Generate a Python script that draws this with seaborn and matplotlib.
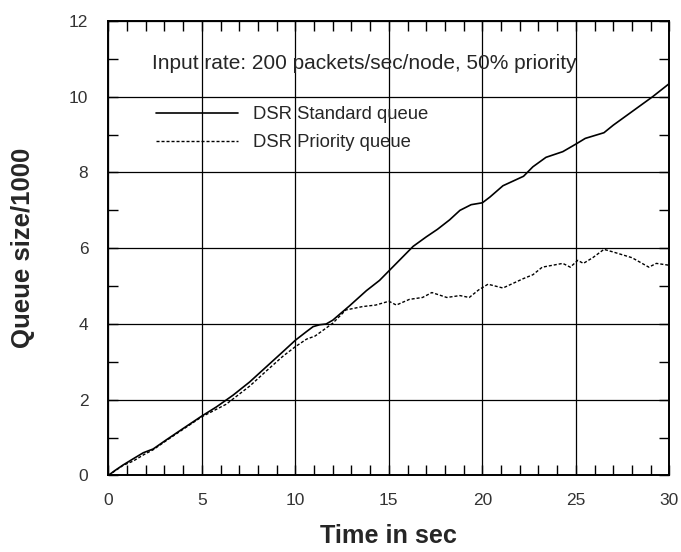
import matplotlib
matplotlib.use("Agg")
import matplotlib.pyplot as plt
import seaborn as sns
import pandas as pd
from matplotlib.ticker import MultipleLocator

std_t = [0, 0.35, 0.8, 1.33, 1.87, 2.4, 3.1, 4.0, 5, 5.78, 6.67, 7.56, 8.45, 9.34, 10, 10.6,
         10.95, 11.3, 11.65, 12, 12.9, 13.8, 14.5, 15, 15.6, 16.3, 17, 17.6, 18.25, 18.8, 19.4,
         20, 20.4, 21.1, 22.2, 22.7, 23.4, 24.3, 25, 25.5, 26.5, 27, 27.7, 28.4, 29.1, 30]
std_q = [0, 0.13, 0.28, 0.44, 0.6, 0.7, 0.94, 1.24, 1.57, 1.81, 2.12, 2.47, 2.87, 3.27, 3.57, 3.8,
         3.93, 3.98, 4.0, 4.1, 4.48, 4.88, 5.15, 5.4, 5.7, 6.05, 6.3, 6.5, 6.75, 7.0, 7.15,
         7.2, 7.35, 7.65, 7.9, 8.15, 8.4, 8.55, 8.75, 8.9, 9.05, 9.25, 9.5, 9.75, 10.0, 10.35]

pri_t = [0, 0.8, 1.33, 1.9, 2.4, 3.1, 4.0, 5, 6.3, 7.56, 8.45, 9.34, 10, 10.6, 11.05, 11.5, 12,
         12.7, 13.6, 14.3, 15, 15.4, 16.1, 16.8, 17.3, 18.1, 18.8, 19.3, 19.8, 20.3, 21.1, 22.2,
         22.7, 23.2, 24.3, 24.7, 25.1, 25.4, 25.9, 26.5, 27, 28, 28.9, 29.3, 30]
pri_q = [0, 0.27, 0.38, 0.55, 0.68, 0.92, 1.22, 1.55, 1.88, 2.36, 2.76, 3.15, 3.4, 3.6, 3.68, 3.84,
         4.02, 4.37, 4.46, 4.5, 4.6, 4.5, 4.65, 4.7, 4.83, 4.7, 4.75, 4.7, 4.9, 5.05, 4.95, 5.2,
         5.3, 5.5, 5.6, 5.5, 5.68, 5.6, 5.75, 5.97, 5.9, 5.75, 5.5, 5.6, 5.55]

labels = ["DSR Standard queue", "DSR Priority queue"]
title = "Input rate: 200 packets/sec/node, 50% priority"
xticks = [0, 5, 10, 15, 20, 25, 30]
yticks = [0, 2, 4, 6, 8, 10, 12]

sns.set_style("ticks")
plt.rcParams['font.family'] = ['Liberation Sans', 'DejaVu Sans']

fig = plt.figure(figsize=(6.81, 5.52), dpi=100)
ax = fig.add_axes([0.159, 0.1386, 0.824, 0.8234])

df_std = pd.DataFrame({"t": std_t, "q": std_q})
df_pri = pd.DataFrame({"t": pri_t, "q": pri_q})
sns.lineplot(data=df_std, x="t", y="q", ax=ax, color="black", lw=1.2, label=labels[0])
sns.lineplot(data=df_pri, x="t", y="q", ax=ax, color="black", lw=1.0, label=labels[1],
             dashes=False)
ax.lines[1].set_dashes([2.2, 1.4])

ax.set_xlim(0, 30)
ax.set_ylim(0, 12)
ax.set_xticks(xticks)
ax.set_yticks(yticks)
ax.xaxis.set_minor_locator(MultipleLocator(1))
ax.yaxis.set_minor_locator(MultipleLocator(1))
ax.grid(True, which="major", color="black", lw=0.9)
ax.tick_params(which="both", direction="in", top=True, right=True, labelsize=12.5, width=1,
               color="black", labelcolor="#333333")
ax.tick_params(which="major", length=7)
ax.tick_params(which="minor", length=7)
ax.tick_params(axis="x", which="major", pad=12.6)
ax.tick_params(axis="y", which="major", pad=14.4)
for s in ax.spines.values():
    s.set_visible(True)
    s.set_color("black")
    s.set_linewidth(1.4)

ax.set_xlabel("Time in sec", fontsize=18.2, fontweight="bold")
ax.set_ylabel("Queue size/1000", fontsize=18.5, fontweight="bold")
ax.yaxis.set_label_coords(-0.1306, 0.5)
ax.xaxis.set_label_coords(0.5, -0.106)

ax.text(2.35, 10.88, title, fontsize=15, ha="left", va="center")

leg = ax.legend(loc="upper left", bbox_to_anchor=(0.055, 0.849), frameon=False, fontsize=13.3,
                handlelength=4.43, handletextpad=0.86, labelspacing=0.6)

fig.savefig("out.png", dpi=100)
